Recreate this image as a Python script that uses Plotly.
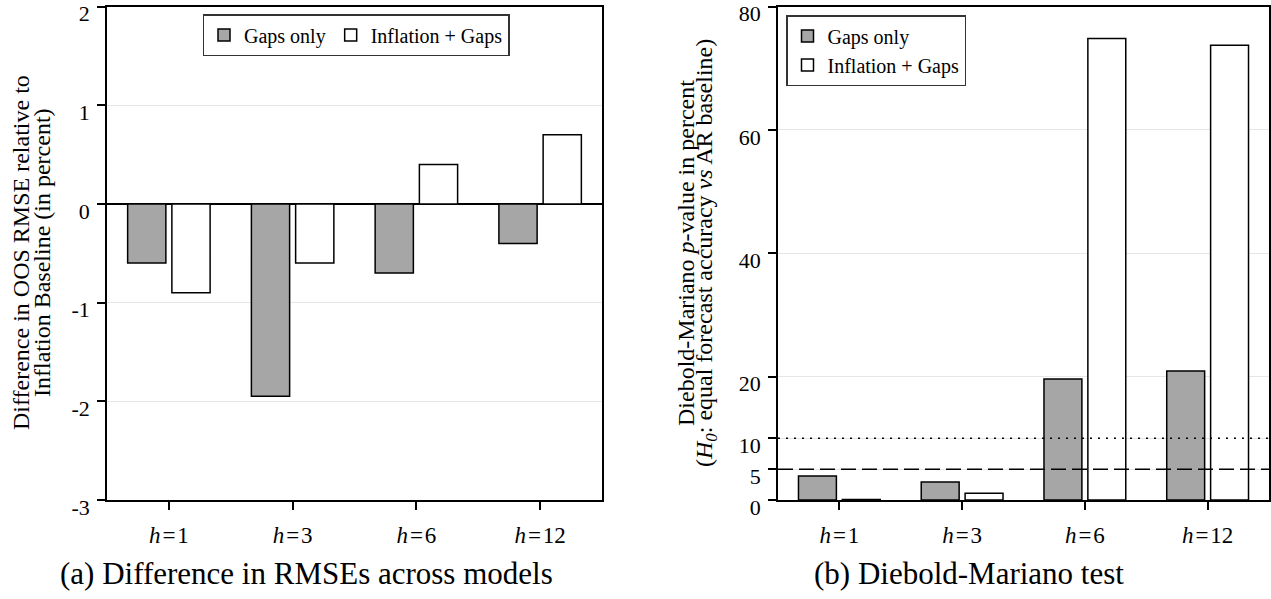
import plotly.graph_objects as go

# ---------------- data ----------------
categories = ["h=1", "h=3", "h=6", "h=12"]
tick_labels = ["<i>h</i>\u200a=\u200a1", "<i>h</i>\u200a=\u200a3",
               "<i>h</i>\u200a=\u200a6", "<i>h</i>\u200a=\u200a12"]

rmse_gaps_only = [-0.6, -1.95, -0.7, -0.4]
rmse_inflation_gaps = [-0.9, -0.6, 0.4, 0.7]

dm_gaps_only = [3.9, 2.9, 19.6, 20.9]
dm_inflation_gaps = [0.1, 1.1, 74.8, 73.7]

left_yticks = [-3, -2, -1, 0, 1, 2]
right_yticks = [0, 5, 10, 20, 40, 60, 80]
significance_levels = [5, 10]

series_names = ["Gaps only", "Inflation + Gaps"]
# --------------------------------------

W, H = 1271, 599
FONT = "Liberation Serif"
GRAY = "#a6a6a6"


def px_x(p):
    return p / W


def px_y(p):
    return 1 - p / H


fig = go.Figure()

bar_line = dict(color="black", width=1.5)

fig.add_trace(go.Bar(x=categories, y=rmse_gaps_only, name=series_names[0],
                     marker=dict(color=GRAY, line=bar_line),
                     xaxis="x", yaxis="y", legend="legend"))
fig.add_trace(go.Bar(x=categories, y=rmse_inflation_gaps, name=series_names[1],
                     marker=dict(color="white", line=bar_line),
                     xaxis="x", yaxis="y", legend="legend"))
fig.add_trace(go.Bar(x=categories, y=dm_gaps_only, name=series_names[0],
                     marker=dict(color=GRAY, line=bar_line),
                     xaxis="x2", yaxis="y2", legend="legend2"))
fig.add_trace(go.Bar(x=categories, y=dm_inflation_gaps, name=series_names[1],
                     marker=dict(color="white", line=bar_line),
                     xaxis="x2", yaxis="y2", legend="legend2"))

ydom = [px_y(500), px_y(6.5)]

common_axis = dict(showline=True, linecolor="black", linewidth=1.5, mirror=True,
                   ticks="outside", ticklen=8, tickwidth=1.5, tickcolor="black",
                   tickfont=dict(family=FONT, size=22, color="black"),
                   automargin=False, ticklabeloverflow="allow")

xaxis_common = dict(common_axis, type="category", categoryorder="array",
                    categoryarray=categories, range=[-0.5, 3.5],
                    tickvals=categories, ticktext=tick_labels,
                    showgrid=False, ticklabelstandoff=6,
                    tickfont=dict(family=FONT, size=23, color="black"))

yaxis_common = dict(common_axis, showgrid=True, gridcolor="#e6e6e6", gridwidth=1,
                    ticklabelstandoff=3, ticklabelshift=7)

fig.update_layout(
    width=W, height=H,
    margin=dict(l=0, r=0, t=0, b=0),
    paper_bgcolor="white", plot_bgcolor="white",
    barmode="group", bargap=0.285, bargroupgap=0.136,
    font=dict(family=FONT, color="black"),
    xaxis=dict(xaxis_common, domain=[px_x(107), px_x(602)], anchor="y"),
    xaxis2=dict(xaxis_common, domain=[px_x(778), px_x(1269)], anchor="y2"),
    yaxis=dict(yaxis_common, domain=ydom, anchor="x", range=[-3, 2],
               tickvals=left_yticks, ticktext=[str(v) for v in left_yticks],
               zeroline=True, zerolinecolor="black", zerolinewidth=1.5),
    yaxis2=dict(yaxis_common, domain=ydom, anchor="x2", range=[0, 80],
                tickvals=right_yticks, ticktext=[str(v) for v in right_yticks],
                zeroline=False),
    legend=dict(orientation="h", x=px_x(356), y=px_y(14), xanchor="center", yanchor="top",
                bgcolor="white", bordercolor="#333333", borderwidth=1.5,
                font=dict(family=FONT, size=20, color="black"),
                traceorder="normal"),
    legend2=dict(orientation="v", x=px_x(786), y=px_y(15), xanchor="left", yanchor="top",
                 bgcolor="white", bordercolor="#333333", borderwidth=1.5,
                 font=dict(family=FONT, size=20, color="black"),
                 traceorder="normal"),
    showlegend=True,
)

# significance reference lines on the right panel
dash_styles = {5: "15px,6px", 10: "2px,6px"}
for lvl in significance_levels:
    fig.add_shape(type="line", xref="x2 domain", x0=0, x1=1, yref="y2", y0=lvl, y1=lvl,
                  line=dict(color="black", width=1.5, dash=dash_styles[lvl]), layer="above")

# y-axis titles (two lines each)
title_font = dict(family=FONT, size=24, color="black")
ycenter = px_y(253)
titles = [
    ("Difference in OOS RMSE relative to", 21),
    ("Inflation Baseline (in percent)", 42),
    ("Diebold-Mariano <i>p</i>-value in percent", 686),
    ("(<i>H<sub>0</sub></i>: equal forecast accuracy <i>vs</i> AR baseline)", 706),
]
for text, xp in titles:
    fig.add_annotation(text=text, xref="paper", yref="paper", x=px_x(xp), y=ycenter,
                       xanchor="center", yanchor="middle", textangle=-90,
                       showarrow=False, font=title_font)

# captions
cap_font = dict(family=FONT, size=31, color="black")
fig.add_annotation(text="(a) Difference in RMSEs across models", xref="paper", yref="paper",
                   x=px_x(306), y=px_y(573), xanchor="center", yanchor="middle",
                   showarrow=False, font=cap_font)
fig.add_annotation(text="(b) Diebold-Mariano test", xref="paper", yref="paper",
                   x=px_x(969), y=px_y(573), xanchor="center", yanchor="middle",
                   showarrow=False, font=cap_font)

fig.write_html("out.html", config={"displayModeBar": False},
               post_script="document.body.style.margin='0';")
